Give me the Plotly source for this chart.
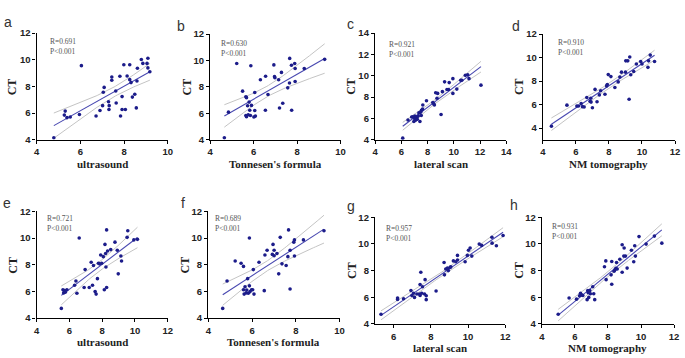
import numpy as np
import plotly.graph_objects as go

# ---------------- data ----------------
a_x = [4.79,5.31,5.27,5.39,5.54,5.96,6.05,6.72,6.90,7.02,7.05,7.09,7.29,7.32,7.31,7.44,7.44,7.64,7.62,7.81,
       7.84,7.91,7.91,7.99,8.06,8.14,8.26,8.26,8.32,8.38,8.49,8.56,8.59,8.61,8.79,8.86,9.05,9.09,9.09,9.18]
a_y = [4.15,6.15,5.85,5.66,5.71,5.90,9.56,5.78,6.20,6.56,7.56,7.93,6.85,6.56,6.27,8.71,8.46,6.76,7.66,8.76,
       5.78,6.27,7.24,9.63,6.27,8.78,9.63,8.51,8.29,7.20,7.41,6.39,8.41,9.37,10.02,9.73,9.73,10.12,9.39,9.10]

b_x = [4.65,4.84,5.22,5.49,5.64,5.67,5.64,5.67,5.75,5.72,5.79,5.82,5.85,5.87,5.90,6.01,6.05,6.08,6.05,6.31,
       6.55,6.54,6.66,6.93,6.96,6.98,7.15,7.19,7.28,7.34,7.57,7.65,7.66,7.74,7.75,7.89,7.91,7.91,8.33,9.27]
b_y = [4.15,6.09,9.77,7.68,7.26,7.19,5.84,5.74,5.89,6.58,6.85,6.23,5.84,9.60,6.60,5.72,6.21,5.79,7.58,8.54,
       8.81,6.23,7.43,9.67,8.78,8.69,8.54,6.40,9.10,6.77,7.93,8.30,10.16,9.64,6.23,9.77,9.40,8.41,9.40,10.09]

c_x = [6.11,6.51,6.79,6.89,6.96,7.02,7.04,7.09,7.17,7.22,7.29,7.34,7.42,7.47,7.52,7.54,7.62,7.64,7.92,8.40,
       8.47,8.52,8.62,8.72,8.77,9.03,9.13,9.30,9.48,9.60,9.65,9.93,9.93,10.23,10.53,10.61,10.88,11.06,11.16,12.07]
c_y = [4.15,5.86,6.13,6.16,5.71,5.98,6.22,5.83,6.13,5.92,6.22,6.52,5.71,6.58,6.28,6.77,6.89,7.26,7.66,7.50,
       7.38,7.26,8.41,7.90,8.35,6.37,8.51,9.43,8.72,8.72,9.36,9.73,8.35,8.75,9.58,9.58,10.04,10.10,9.73,9.12]

d_x = [4.52,5.46,6.06,6.16,6.32,6.40,6.50,6.66,6.86,6.90,6.92,7.00,7.16,7.28,7.42,7.50,7.76,7.86,7.90,7.96,
       8.12,8.36,8.56,8.66,8.76,9.00,9.02,9.14,9.22,9.26,9.32,9.50,9.66,9.92,10.00,10.36,10.40,10.50,10.76]
d_y = [4.16,5.95,5.87,5.87,6.09,5.82,5.79,6.60,6.27,6.54,6.21,5.73,7.29,6.24,6.82,7.18,6.88,7.59,7.70,8.55,
       8.38,7.45,7.93,8.35,8.76,8.76,9.72,9.72,6.45,10.05,8.54,8.82,9.45,9.67,9.45,9.17,9.72,10.21,9.67]

e_x = [5.51,5.61,5.65,5.71,5.75,5.85,6.32,6.40,6.46,6.60,6.96,6.90,7.21,7.33,7.41,7.47,7.57,7.63,7.71,7.77,
       7.83,7.91,7.97,8.07,8.13,8.17,8.21,8.23,8.27,8.27,8.33,8.52,8.78,8.92,8.98,9.14,9.18,9.52,9.56,9.93,10.15]
e_y = [4.73,6.13,5.89,6.06,5.94,6.13,6.47,6.79,5.87,10.01,7.64,6.30,6.30,8.19,6.47,7.95,5.99,5.80,6.96,8.12,
       8.07,8.73,8.12,8.61,6.13,9.53,8.85,7.83,10.62,6.30,9.04,9.14,9.70,9.09,7.32,8.66,8.29,10.06,10.55,9.87,9.91]

f_x = [4.66,4.86,5.23,5.50,5.61,5.61,5.64,5.68,5.73,5.76,5.80,5.83,5.88,5.88,5.91,5.98,6.03,6.06,6.09,6.32,
       6.56,6.59,6.69,6.93,6.96,7.01,7.01,7.14,7.22,7.29,7.37,7.56,7.64,7.67,7.74,7.74,7.91,7.94,7.94,8.35,9.29]
f_y = [4.73,6.79,8.29,8.12,7.88,6.13,5.80,6.35,5.89,6.11,6.96,5.87,6.42,10.01,5.99,6.13,6.13,7.64,5.80,8.19,
       6.06,8.73,9.09,8.78,9.53,9.09,8.68,8.85,7.32,10.06,8.07,7.95,8.61,10.62,9.09,6.18,9.70,9.87,8.66,9.87,10.55]

g_x = [5.32,6.21,6.21,6.53,6.93,6.98,7.07,7.12,7.25,7.39,7.42,7.42,7.46,7.51,7.55,7.66,7.69,7.75,7.75,8.28,
       8.71,8.73,8.80,8.89,8.94,9.04,9.07,9.21,9.34,9.43,9.43,9.84,9.96,10.02,10.11,10.20,10.60,10.73,11.28,11.29,11.52,11.88]
g_y = [4.73,5.94,5.84,5.89,6.50,6.13,6.30,5.99,6.24,6.24,6.96,6.13,7.88,6.30,6.79,6.24,7.32,5.82,6.11,6.47,
       8.61,7.68,8.12,8.19,8.00,8.24,8.29,8.73,8.66,9.14,8.80,8.66,9.14,9.53,9.70,9.09,9.99,9.89,10.50,10.06,9.87,10.64]

h_x = [4.99,5.65,6.10,6.28,6.34,6.40,6.48,6.74,6.78,6.80,6.84,6.90,6.94,7.08,7.14,7.20,7.79,7.87,7.89,8.19,
       8.23,8.23,8.37,8.43,8.48,8.52,8.56,8.72,8.86,8.86,8.98,8.96,9.06,9.16,9.42,9.56,9.62,9.66,9.88,10.31,10.81,11.26]
h_y = [4.73,5.94,5.86,6.11,6.30,6.18,6.13,5.82,6.50,6.35,5.99,6.50,6.26,6.79,6.26,5.82,8.29,8.73,7.32,7.68,
       8.68,6.98,7.95,8.07,8.17,8.61,8.12,8.85,9.94,7.88,9.70,9.09,9.09,8.19,9.53,8.66,9.87,9.09,10.55,9.99,10.59,10.06]

letters = ["a", "b", "c", "d", "e", "f", "g", "h"]
x_titles = ["ultrasound", "Tonnesen's formula", "lateral scan", "NM tomography",
            "ultrasound", "Tonnesen's formula", "lateral scan", "NM tomography"]
r_values = ["0.691", "0.630", "0.921", "0.910", "0.721", "0.689", "0.957", "0.931"]
p_text = "P&lt;0.001"
y_title = "CT"

x_ranges = [[4, 10], [4, 10], [4, 14], [4, 12], [4, 12], [4, 10], [5, 12], [4, 12]]
y_ranges = [[4, 12], [4, 12], [4, 14], [3, 12], [4, 12], [4, 12], [4, 12], [4, 12]]
x_ticks = [[4, 6, 8, 10], [4, 6, 8, 10], [4, 6, 8, 10, 12, 14], [4, 6, 8, 10, 12],
           [4, 6, 8, 10, 12], [4, 6, 8, 10], [6, 8, 10, 12], [4, 6, 8, 10, 12]]
y_ticks = [[4, 6, 8, 10, 12], [4, 6, 8, 10, 12], [4, 6, 8, 10, 12, 14], [4, 6, 8, 10, 12],
           [4, 6, 8, 10, 12], [4, 6, 8, 10, 12], [4, 6, 8, 10, 12], [4, 6, 8, 10, 12]]

xs = [a_x, b_x, c_x, d_x, e_x, f_x, g_x, h_x]
ys = [a_y, b_y, c_y, d_y, e_y, f_y, g_y, h_y]

# ---------------- layout (pixels) ----------------
W, H = 685, 358
# plot-area boxes: left, top, right, bottom
boxes = [(34, 28, 167, 138), (210, 29, 342, 138), (377, 28, 510, 138), (547, 29, 681, 138),
         (34, 212, 167, 322), (208, 212, 341, 322), (377, 218, 509, 328), (546, 218, 680, 328)]
letter_pos = [(5, 17), (180, 21), (352, 19), (520, 21), (4, 203), (182, 203), (353, 206), (518, 205)]
rp_pos = [(46, 41.5), (219, 44), (389, 45), (560, 43), (43, 224.5), (213, 224), (386, 234.5), (554, 232.5)]

def px(x):
    return x / W

def py(y):
    return 1 - y / H

POINT = "#1c1c8a"
LINE = "#4848b0"
CI = "#c4c4c4"
SERIF = "Liberation Serif, Times New Roman, serif"
SANS = "Liberation Sans, Arial, sans-serif"

fig = go.Figure()
annotations = []
layout = {}

T_CRIT = 2.02

for i in range(8):
    x = np.array(xs[i], dtype=float)
    y = np.array(ys[i], dtype=float)
    n = len(x)
    slope, intercept = np.polyfit(x, y, 1)
    xm = x.mean()
    resid = y - (slope * x + intercept)
    s = np.sqrt((resid ** 2).sum() / (n - 2))
    sxx = ((x - xm) ** 2).sum()
    xl = np.linspace(x.min(), x.max(), 60)
    yl = slope * xl + intercept
    se = s * np.sqrt(1.0 / n + (xl - xm) ** 2 / sxx)
    xa = "x" if i == 0 else f"x{i+1}"
    ya = "y" if i == 0 else f"y{i+1}"

    fig.add_trace(go.Scatter(x=xl, y=yl + T_CRIT * se, mode="lines", line=dict(color=CI, width=1),
                             xaxis=xa, yaxis=ya, showlegend=False, hoverinfo="skip"))
    fig.add_trace(go.Scatter(x=xl, y=yl - T_CRIT * se, mode="lines", line=dict(color=CI, width=1),
                             xaxis=xa, yaxis=ya, showlegend=False, hoverinfo="skip"))
    fig.add_trace(go.Scatter(x=xl, y=yl, mode="lines", line=dict(color=LINE, width=1.1),
                             xaxis=xa, yaxis=ya, showlegend=False, hoverinfo="skip"))
    fig.add_trace(go.Scatter(x=x, y=y, mode="markers", marker=dict(color=POINT, size=3.6),
                             xaxis=xa, yaxis=ya, showlegend=False))

    l, t, r, b = boxes[i]
    axcommon = dict(showline=True, linecolor="black", linewidth=1.4, ticks="outside", ticklen=3,
                    tickwidth=1.3, tickcolor="black", showgrid=False, zeroline=False,
                    tickfont=dict(family=SANS, size=9.5, color="#222", weight="bold"))
    layout["xaxis" if i == 0 else f"xaxis{i+1}"] = dict(
        domain=[px(l), px(r)], anchor=ya, range=x_ranges[i], tickvals=x_ticks[i], **axcommon)
    layout["yaxis" if i == 0 else f"yaxis{i+1}"] = dict(
        domain=[py(b), py(t)], anchor=xa, range=y_ranges[i], tickvals=y_ticks[i], **axcommon)

    # axis titles
    annotations.append(dict(x=px((l + r) / 2), y=py(b + 25), xref="paper", yref="paper",
                            text=x_titles[i], showarrow=False, xanchor="center", yanchor="middle",
                            font=dict(family=SERIF, size=11, color="#222", weight="bold")))
    annotations.append(dict(x=px(l - 24), y=py((t + b) / 2), xref="paper", yref="paper",
                            text=y_title, showarrow=False, textangle=-90, xanchor="center",
                            yanchor="middle",
                            font=dict(family=SERIF, size=12, color="#222", weight="bold")))
    # panel letters
    lx, ly = letter_pos[i]
    annotations.append(dict(x=px(lx), y=py(ly), xref="paper", yref="paper", text=letters[i],
                            showarrow=False, xanchor="center", yanchor="middle",
                            font=dict(family=SANS, size=14, color="#333")))
    # R / P text
    rx, ry = rp_pos[i]
    annotations.append(dict(x=px(rx), y=py(ry), xref="paper", yref="paper",
                            text="R=" + r_values[i] + "<br>" + p_text,
                            showarrow=False, xanchor="left", yanchor="middle", align="left",
                            font=dict(family=SERIF, size=7.5, color="#555")))

fig.update_layout(width=W, height=H, margin=dict(l=0, r=0, t=0, b=0), paper_bgcolor="white",
                  plot_bgcolor="white", annotations=annotations, **layout)

fig.write_html("out.html", config={"displayModeBar": False},
               post_script="document.body.style.margin='0';document.body.style.overflow='hidden';")
